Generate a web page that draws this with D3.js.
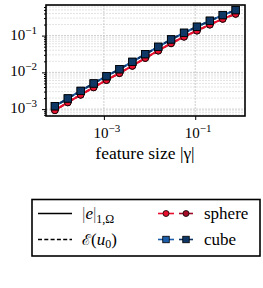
<!DOCTYPE html>
<meta charset="utf-8">
<style>
    body { margin: 0; background: #fff; }
    svg text { font-family: "Liberation Serif", "DejaVu Serif", serif; fill: #000; }
</style>
<svg></svg>
<script src="https://d3js.org/d3.v7.min.js"></script>
<script>

    // feature size |gamma|
    var gamma = [8.45e-5, 1.62e-4, 3.10e-4, 5.96e-4, 1.14e-3, 2.19e-3, 4.20e-3, 8.05e-3,
                 1.55e-2, 2.96e-2, 5.68e-2, 0.109, 0.209, 0.400, 0.767];

    // sphere: |e|_{1,Omega} and estimator E(u0)
    var sphereErr = [9.3e-4, 1.52e-3, 2.45e-3, 3.9e-3, 6.15e-3, 9.5e-3, 1.5e-2, 2.45e-2,
                     3.88e-2, 6.15e-2, 9.3e-2, 0.136, 0.198, 0.285, 0.39];
    var sphereEst = [9.3e-4, 1.52e-3, 2.45e-3, 3.9e-3, 6.15e-3, 9.5e-3, 1.5e-2, 2.45e-2,
                     3.88e-2, 6.15e-2, 9.3e-2, 0.136, 0.198, 0.285, 0.39];

    // cube
    var cubeErr = [1.2e-3, 1.95e-3, 3.13e-3, 4.99e-3, 7.87e-3, 1.22e-2, 1.93e-2, 3.13e-2,
                   4.95e-2, 7.87e-2, 0.119, 0.174, 0.253, 0.362, 0.495];
    var cubeEst = [1.2e-3, 1.95e-3, 3.13e-3, 4.99e-3, 7.87e-3, 1.22e-2, 1.93e-2, 3.13e-2,
                   4.95e-2, 7.87e-2, 0.119, 0.174, 0.253, 0.362, 0.495];

    var xTicks = [1e-3, 1e-1];
    var xTickExp = ["\u22123", "\u22121"];
    var yTicks = [1e-3, 1e-2, 1e-1];
    var yTickExp = ["\u22123", "\u22122", "\u22121"];

    var width = 263,
        height = 288;

    var svg = d3.select("svg")
        .attr("width", width)
        .attr("height", height);

    var pLeft = 46, pRight = 245, pTop = 5, pBottom = 116;

    var x = d3.scaleLog().domain([5.4e-5, 1.23]).range([pLeft, pRight]);
    var y = d3.scaleLog().domain([6.5e-4, 0.68]).range([pBottom, pTop]);

    // minor y values 2..9 in each decade
    var yMinor = [];
    [1e-4, 1e-3, 1e-2, 1e-1].forEach(function (d) {
        for (var m = 2; m < 10; m++) {
            var v = d * m;
            if (v > y.domain()[0] && v < y.domain()[1]) yMinor.push(v);
        }
    });

    var grid = svg.append("g");
    grid.selectAll(".hminor")
        .data(yMinor)
        .enter().append("line")
        .attr("x1", pLeft).attr("x2", pRight)
        .attr("y1", function (d) { return y(d); })
        .attr("y2", function (d) { return y(d); })
        .attr("stroke", "#d0d0d0")
        .attr("stroke-width", 0.6)
        .attr("stroke-dasharray", "2,1");
    grid.selectAll(".hmajor")
        .data(yTicks)
        .enter().append("line")
        .attr("x1", pLeft).attr("x2", pRight)
        .attr("y1", function (d) { return y(d); })
        .attr("y2", function (d) { return y(d); })
        .attr("stroke", "#c0c0c0")
        .attr("stroke-width", 0.8)
        .attr("stroke-dasharray", "2,1");
    grid.selectAll(".vmajor")
        .data(xTicks)
        .enter().append("line")
        .attr("y1", pTop).attr("y2", pBottom)
        .attr("x1", function (d) { return x(d); })
        .attr("x2", function (d) { return x(d); })
        .attr("stroke", "#c0c0c0")
        .attr("stroke-width", 0.8)
        .attr("stroke-dasharray", "2,1");

    // axes
    svg.append("g")
        .attr("transform", "translate(" + pLeft + ",0)")
        .call(d3.axisLeft(y).tickValues(yTicks).tickSize(4).tickFormat(""));
    svg.append("g")
        .attr("transform", "translate(" + pLeft + ",0)")
        .call(d3.axisLeft(y).tickValues(yMinor).tickSize(2).tickFormat(""));
    svg.append("g")
        .attr("transform", "translate(0," + pBottom + ")")
        .call(d3.axisBottom(x).tickValues(xTicks).tickSize(4).tickFormat(""));
    svg.selectAll(".domain").remove();
    svg.selectAll(".tick line").attr("stroke", "#000").attr("stroke-width", 1);

    function powLabel(g, xp, yp, exp, anchor) {
        var t = g.append("text")
            .attr("x", xp).attr("y", yp)
            .attr("text-anchor", anchor)
            .style("font-size", "15px");
        t.append("tspan").text("10");
        t.append("tspan").attr("dy", -6).style("font-size", "11px").text(exp);
    }

    yTicks.forEach(function (d, i) {
        powLabel(svg, pLeft - 9, y(d) + 4, yTickExp[i], "end");
    });
    xTicks.forEach(function (d, i) {
        powLabel(svg, x(d) + 3, pBottom + 22, xTickExp[i], "middle");
    });

    svg.append("text")
        .attr("x", 145)
        .attr("y", 159)
        .attr("text-anchor", "middle")
        .style("font-size", "17.5px")
        .text("feature size |\u03b3|");

    // curves
    var series = [
        { vals: sphereErr, color: "#e8102e", fill: "#e8102e", dash: null, shape: "circle" },
        { vals: sphereEst, color: "#9b0d26", fill: "#a50d28", dash: "4,2", shape: "circle" },
        { vals: cubeErr, color: "#1d5eab", fill: "#1d5eab", dash: null, shape: "square" },
        { vals: cubeEst, color: "#0d3363", fill: "#0f3766", dash: "4,2", shape: "square" }
    ];
    // drawing order: sphere estimator, sphere error, cube error, cube estimator
    var drawOrder = [1, 0, 2, 3];

    var line = d3.line()
        .x(function (d) { return x(d[0]); })
        .y(function (d) { return y(d[1]); });

    var plot = svg.append("g");

    function marker(g, shape, fill, cx, cy, s) {
        if (shape === "circle") {
            g.append("circle")
                .attr("cx", cx).attr("cy", cy).attr("r", s / 2)
                .attr("fill", fill).attr("stroke", "#000").attr("stroke-width", 0.8);
        } else {
            g.append("rect")
                .attr("x", cx - s / 2).attr("y", cy - s / 2)
                .attr("width", s).attr("height", s)
                .attr("fill", fill).attr("stroke", "#000").attr("stroke-width", 0.8);
        }
    }

    drawOrder.forEach(function (k) {
        var s = series[k];
        var pts = gamma.map(function (g, i) { return [g, s.vals[i]]; });
        plot.append("path")
            .datum(pts)
            .attr("d", line)
            .attr("fill", "none")
            .attr("stroke", s.color)
            .attr("stroke-width", 2)
            .attr("stroke-dasharray", s.dash);
        pts.forEach(function (p) {
            marker(plot, s.shape, s.fill, x(p[0]), y(p[1]), s.shape === "circle" ? 6.8 : 7.4);
        });
    });

    // frame
    svg.append("rect")
        .attr("x", pLeft).attr("y", pTop)
        .attr("width", pRight - pLeft).attr("height", pBottom - pTop)
        .attr("fill", "none").attr("stroke", "#000").attr("stroke-width", 1.6);

    // legend
    var lg = svg.append("g");
    lg.append("rect")
        .attr("x", 32).attr("y", 199.5).attr("width", 228).attr("height", 56.5)
        .attr("fill", "#fff").attr("stroke", "#000").attr("stroke-width", 1.6);

    var rows = [213.5, 239.5];
    lg.append("line").attr("x1", 38).attr("x2", 72).attr("y1", rows[0]).attr("y2", rows[0])
        .attr("stroke", "#000").attr("stroke-width", 1.6);
    lg.append("line").attr("x1", 38).attr("x2", 72).attr("y1", rows[1]).attr("y2", rows[1])
        .attr("stroke", "#000").attr("stroke-width", 1.6).attr("stroke-dasharray", "4,2.3");

    var t1 = lg.append("text").attr("x", 82).attr("y", rows[0] + 5).style("font-size", "17px");
    t1.append("tspan").text("|").attr("fill", "#666");
    t1.append("tspan").text("e").style("font-style", "italic");
    t1.append("tspan").text("|").attr("fill", "#666");
    t1.append("tspan").attr("dy", 4).style("font-size", "12px").text("1,\u03a9");

    var t2 = lg.append("text").attr("x", 82).attr("y", rows[1] + 5).style("font-size", "17px");
    t2.append("tspan").text("\u2130").style("font-family", "DejaVu Serif").style("font-size", "15px");
    t2.append("tspan").text("(");
    t2.append("tspan").text("u").style("font-style", "italic");
    t2.append("tspan").attr("dy", 3).style("font-size", "12px").text("0");
    t2.append("tspan").attr("dy", -3).text(")");

    [[series[0], series[1], "sphere"], [series[2], series[3], "cube"]].forEach(function (pair, i) {
        var cy = rows[i];
        [[pair[0], 158, 174, 166], [pair[1], 179, 193, 186]].forEach(function (h) {
            lg.append("line").attr("x1", h[1]).attr("x2", h[2]).attr("y1", cy).attr("y2", cy)
                .attr("stroke", h[0].color).attr("stroke-width", 1.6);
            marker(lg, h[0].shape, h[0].fill, h[3], cy, h[0].shape === "circle" ? 6 : 6.5);
        });
        lg.append("text").attr("x", 204).attr("y", cy + 5).style("font-size", "17px").text(pair[2]);
    });

</script>
